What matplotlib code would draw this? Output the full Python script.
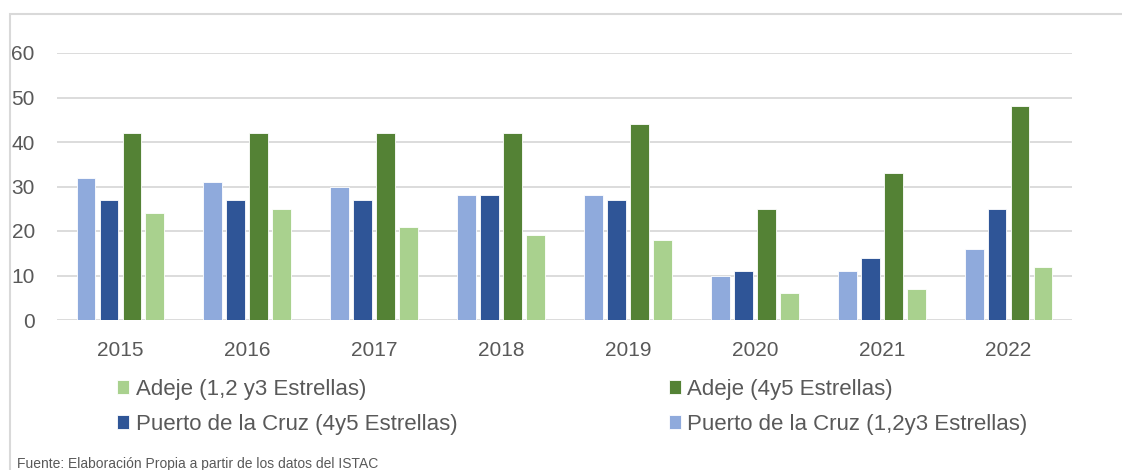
import matplotlib.pyplot as plt
from matplotlib.patches import Rectangle
import numpy as np

years = ['2015', '2016', '2017', '2018', '2019', '2020', '2021', '2022']
puerto_123 = [32, 31, 30, 28, 28, 10, 11, 16]
puerto_45 = [27, 27, 27, 28, 27, 11, 14, 25]
adeje_45 = [42, 42, 42, 42, 44, 25, 33, 48]
adeje_123 = [24, 25, 21, 19, 18, 6, 7, 12]

series = [
    ('Puerto de la Cruz (1,2y3 Estrellas)', puerto_123, '#8FAADC'),
    ('Puerto de la Cruz (4y5 Estrellas)', puerto_45, '#2F5597'),
    ('Adeje (4y5 Estrellas)', adeje_45, '#548235'),
    ('Adeje (1,2 y3 Estrellas)', adeje_123, '#A9D18E'),
]

plt.rcParams['font.family'] = ['Liberation Sans', 'DejaVu Sans']
txt = '#595959'

fig = plt.figure(figsize=(11.22, 4.70), dpi=100)
fig.patches.append(Rectangle((10 / 1122, -0.1), 1.2, 1.1 - 14 / 470, transform=fig.transFigure,
                             fill=False, edgecolor='#D9D9D9', linewidth=1.5))
ax = fig.add_axes([57 / 1122, 1 - 320 / 470, 1015 / 1122, 267 / 470])

x = np.arange(len(years))
step = 0.181
width = 0.148
handles = {}
for i, (name, vals, col) in enumerate(series):
    b = ax.bar(x + (i - 1.5) * step, vals, width, color=col, edgecolor='white', linewidth=0.6,
               label=name, zorder=3)
    handles[name] = b

ax.set_xlim(-0.5, len(years) - 0.5)
ax.set_ylim(0, 60)
ax.set_yticks(range(0, 61, 10))
ax.set_xticks(x)
ax.set_xticklabels(years)
ax.grid(axis='y', color='#D9D9D9', linewidth=1.3, zorder=0)
for s in ax.spines.values():
    s.set_visible(False)
ax.tick_params(length=0, labelsize=15, labelcolor=txt)
ax.tick_params(axis='y', pad=16)
ax.tick_params(axis='x', pad=15)

order = ['Adeje (1,2 y3 Estrellas)', 'Puerto de la Cruz (4y5 Estrellas)',
         'Adeje (4y5 Estrellas)', 'Puerto de la Cruz (1,2y3 Estrellas)']
leg = fig.legend([handles[n] for n in order], order, ncol=2, loc='upper left',
                 bbox_to_anchor=(108 / 1122, 1 - 370 / 470), frameon=False, fontsize=16,
                 handlelength=0.55, handleheight=0.55, handletextpad=0.3, columnspacing=9.5,
                 labelspacing=0.62, borderaxespad=0)
for t in leg.get_texts():
    t.set_color(txt)

fig.text(17 / 1122, 1 - 464 / 470, 'Fuente: Elaboración Propia a partir de los datos del ISTAC',
         fontsize=10, color=txt, va='center', ha='left')

fig.savefig('out.png', dpi=100)
